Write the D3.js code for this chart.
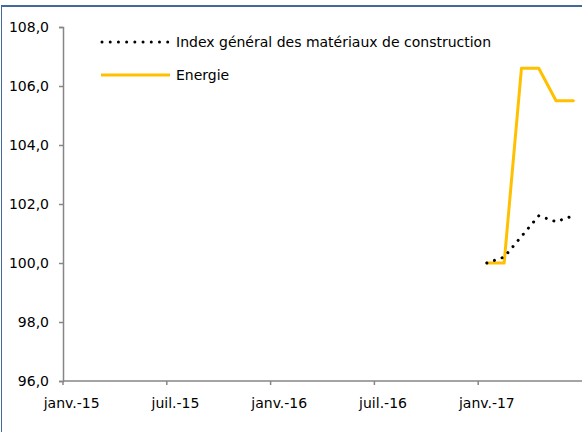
<!DOCTYPE html>
<html><head><meta charset="utf-8">
<script src="https://cdn.jsdelivr.net/npm/d3@7"></script>
<style>
html,body{margin:0;padding:0;background:#fff;}
svg{display:block;}
text{font-family:"DejaVu Sans",sans-serif;font-size:14px;fill:#000;}
</style></head>
<body>
<script>
const months = ["2017-01","2017-02","2017-03","2017-04","2017-05","2017-06"];
const indexGeneral = [100.0, 100.2, 100.9, 101.6, 101.4, 101.6];
const energie = [100.0, 100.0, 106.6, 106.6, 105.5, 105.5];
const yTicks = [96, 98, 100, 102, 104, 106, 108];
const xTickDates = ["2015-01","2015-07","2016-01","2016-07","2017-01"];
const xTickLabels = ["janv.-15","juil.-15","janv.-16","juil.-16","janv.-17"];
const seriesNames = ["Index général des matériaux de construction","Energie"];

const W = 582, H = 432;
const svg = d3.select("body").append("svg").attr("width", W).attr("height", H);

// frame
svg.append("rect").attr("x",1.5).attr("y",6).attr("width",W+10).attr("height",H+10)
  .attr("fill","none").attr("stroke","#41699E").attr("stroke-width",1);
svg.append("line").attr("x1",1).attr("x2",W).attr("y1",6).attr("y2",6)
  .attr("stroke","#41699E").attr("stroke-width",2);

// month-index scale: Jan 2015 = 0, Jul 2017 = 30
const x = d3.scaleLinear().domain([0, 30]).range([63, 582]);
const y = d3.scaleLinear().domain([96, 108]).range([381, 27]);
const monthIdx = d => { const p = d.split("-"); return (+p[0]-2015)*12 + (+p[1]-1); };
const xm = d => x(monthIdx(d) + 0.5);
const xt = d => x(monthIdx(d));

const axisColor = "#868686";
// y axis
const yAxis = svg.append("g").attr("transform","translate(63,0)")
  .call(d3.axisLeft(y).tickValues(yTicks).tickSize(4).tickPadding(10)
    .tickFormat(d => d3.format(".1f")(d).replace(".", ",")));
yAxis.select(".domain").attr("stroke", axisColor).attr("stroke-width",1.5);
yAxis.selectAll(".tick line").attr("stroke", axisColor).attr("stroke-width",1.5);
yAxis.selectAll("text").attr("font-size",14).attr("font-family","DejaVu Sans").attr("dy","0.35em").attr("fill","#000");

// x axis
const xAxis = svg.append("g").attr("transform","translate(0,381)");
xAxis.append("line").attr("x1",63).attr("x2",582).attr("stroke",axisColor).attr("stroke-width",1.5);
xAxis.selectAll("line.tk").data(xTickDates).join("line").attr("class","tk")
  .attr("x1", d=>xt(d)).attr("x2", d=>xt(d)).attr("y1",0).attr("y2",4)
  .attr("stroke",axisColor).attr("stroke-width",1.5);
xAxis.selectAll("text").data(xTickDates).join("text")
  .attr("x", d=>xm(d)).attr("y",27).attr("text-anchor","middle")
  .text((d,i)=>xTickLabels[i]);

// lines
const lineGen = d3.line().x((d,i)=>xm(months[i])).y(d=>y(d));
svg.append("path").datum(energie).attr("d", lineGen).attr("fill","none")
  .attr("stroke","#FFC000").attr("stroke-width",3).attr("stroke-linejoin","round").attr("stroke-linecap","round");
svg.append("path").datum(indexGeneral).attr("d", lineGen).attr("fill","none")
  .attr("stroke","#000").attr("stroke-width",3).attr("stroke-dasharray","0.01 8")
  .attr("stroke-linecap","round");

// legend
const lg = svg.append("g");
lg.append("line").attr("x1",102).attr("x2",168).attr("y1",42).attr("y2",42)
  .attr("stroke","#000").attr("stroke-width",3).attr("stroke-dasharray","0.01 8.2").attr("stroke-linecap","round");
lg.append("text").attr("x",176).attr("y",47).text(seriesNames[0]);
lg.append("line").attr("x1",101).attr("x2",170).attr("y1",75).attr("y2",75)
  .attr("stroke","#FFC000").attr("stroke-width",3);
lg.append("text").attr("x",176).attr("y",80).text(seriesNames[1]);
</script>
</body></html>
